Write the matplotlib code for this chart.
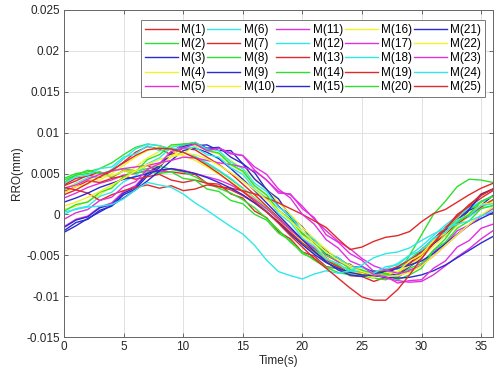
import numpy as np
import matplotlib
matplotlib.use("Agg")
import matplotlib.pyplot as plt

plt.rcParams['font.family'] = ['Liberation Sans', 'DejaVu Sans']
plt.rcParams['axes.unicode_minus'] = False

# time axis (s), one sample per second
time_s = list(range(37))

# RRO of each measurement, in units of 0.001 mm
m01 = [3.5, 4.1, 4.8, 4.5, 5.3, 6.4, 7.6, 8.3, 8.0, 7.3, 8.1, 7.9, 7.0, 6.1, 5.0, 3.7, 2.4, 1.0, -0.4, -1.8, -3.0, -4.2, -5.3, -6.3, -7.0, -7.4, -7.3, -7.1, -6.6, -5.6, -4.3, -3.0, -1.6, -0.3, 0.9, 2.0, 2.9]
m02 = [4.4, 5.0, 5.2, 5.6, 6.3, 7.3, 8.2, 8.6, 8.4, 8.0, 7.6, 7.0, 6.2, 5.3, 4.3, 3.2, 2.0, 0.8, -0.6, -1.9, -3.1, -4.4, -5.4, -6.2, -6.8, -7.2, -7.3, -7.0, -6.4, -5.5, -4.3, -3.1, -1.8, -0.6, 0.6, 1.5, 2.3]
m03 = [-2.0, -1.0, -0.6, 0.5, 1.0, 2.4, 3.1, 4.7, 5.7, 7.5, 8.6, 8.4, 8.5, 7.8, 7.8, 6.2, 5.1, 3.0, 1.9, -0.3, -1.5, -3.5, -4.4, -5.8, -6.1, -7.1, -6.9, -7.2, -6.5, -6.0, -4.5, -3.6, -1.9, -1.1, 0.5, 1.1, 2.3]
m04 = [0.6, 1.0, 1.6, 2.4, 3.4, 4.6, 5.8, 6.9, 7.7, 8.3, 8.6, 8.4, 8.0, 7.4, 6.6, 5.6, 4.4, 3.0, 1.5, 0.0, -1.6, -3.0, -4.3, -5.4, -6.2, -6.8, -7.4, -7.6, -7.3, -6.4, -5.1, -3.6, -2.2, -1.0, 0.2, 1.1, 1.8]
m05 = [-1.5, -0.6, -0.2, 0.9, 1.4, 2.8, 3.5, 5.1, 6.0, 7.7, 8.5, 8.8, 8.0, 8.1, 7.5, 7.2, 5.4, 4.2, 2.6, 2.5, 0.7, -0.4, -2.5, -3.4, -4.8, -5.6, -7.0, -7.1, -7.7, -6.8, -6.3, -4.6, -3.6, -2.0, -1.3, -0.1, 0.2]
m06 = [3.0, 3.8, 4.5, 4.6, 5.5, 6.8, 8.0, 8.6, 8.4, 7.9, 7.6, 7.1, 6.3, 5.4, 4.4, 3.2, 1.9, 0.4, -1.0, -2.4, -3.6, -4.8, -5.8, -6.5, -7.0, -7.2, -7.0, -6.7, -6.0, -5.0, -3.9, -2.6, -1.3, -0.2, 0.8, 1.6, 2.2]
m07 = [3.6, 4.4, 4.7, 5.2, 4.5, 5.4, 5.3, 6.0, 5.2, 5.2, 5.0, 4.9, 3.8, 3.7, 2.5, 2.0, 0.4, -0.4, -2.1, -3.0, -4.6, -5.1, -6.4, -6.6, -7.5, -7.6, -8.2, -7.7, -7.5, -6.0, -5.0, -3.0, -1.8, 0.0, 1.0, 2.5, 3.1]
m08 = [4.2, 4.8, 5.4, 5.0, 5.3, 5.6, 5.3, 5.6, 5.9, 5.5, 5.2, 4.6, 3.8, 3.2, 2.6, 1.8, 0.8, -0.5, -1.9, -3.4, -4.6, -5.6, -6.5, -7.1, -7.4, -7.5, -7.8, -8.0, -7.4, -5.0, -2.5, 0.0, 1.6, 3.4, 4.3, 4.2, 3.9]
m09 = [-1.6, -0.7, -0.3, 0.8, 1.2, 2.6, 3.3, 5.0, 5.9, 7.6, 8.3, 8.7, 8.1, 8.2, 7.0, 6.2, 4.3, 3.1, 1.0, -0.3, -2.3, -3.3, -4.9, -5.3, -6.4, -6.4, -7.1, -7.0, -7.5, -6.4, -5.4, -3.6, -2.6, -0.7, 0.6, 2.4, 3.1]
m10 = [3.2, 3.7, 4.3, 4.2, 5.0, 6.0, 7.0, 7.8, 8.2, 7.8, 7.2, 6.6, 5.8, 4.9, 4.0, 3.0, 1.9, 0.7, -0.7, -2.1, -3.3, -4.5, -5.6, -6.4, -6.9, -7.3, -7.5, -7.4, -7.0, -6.3, -5.2, -3.9, -2.6, -1.4, -0.2, 0.8, 1.6]
m11 = [2.0, 2.6, 3.3, 3.8, 4.2, 4.8, 5.0, 5.4, 5.2, 5.6, 5.4, 5.0, 4.6, 4.2, 3.6, 2.8, 1.8, 0.7, -0.6, -1.9, -3.1, -4.1, -5.0, -5.8, -6.4, -6.9, -7.3, -7.8, -8.1, -8.3, -8.2, -7.4, -6.3, -5.2, -4.2, -3.0, -2.0]
m12 = [0.0, 0.7, 1.0, 2.2, 2.7, 4.0, 4.7, 6.2, 6.9, 8.2, 8.5, 8.8, 8.0, 7.8, 6.4, 5.6, 3.8, 2.8, 0.9, -0.2, -2.1, -3.1, -4.7, -5.3, -6.4, -6.5, -7.2, -6.7, -6.7, -5.4, -4.7, -3.1, -2.3, -0.8, -0.3, 0.8, 1.0]
m13 = [2.8, 3.4, 4.1, 3.9, 4.4, 4.7, 4.3, 4.6, 4.9, 4.2, 3.9, 4.2, 3.8, 3.4, 3.0, 2.3, 1.4, 0.3, -0.9, -2.2, -3.5, -4.6, -5.6, -6.4, -7.0, -7.2, -7.1, -6.9, -6.4, -5.6, -4.6, -3.5, -2.3, -1.2, -0.1, 0.9, 1.8]
m14 = [3.9, 4.8, 5.0, 5.2, 4.6, 5.3, 5.1, 5.2, 5.0, 5.2, 4.4, 4.2, 3.1, 2.8, 1.7, 1.3, 0.0, -0.7, -2.3, -3.2, -4.8, -5.4, -6.5, -6.6, -7.2, -6.9, -7.5, -7.4, -7.6, -6.6, -6.0, -4.4, -3.4, -1.7, -0.8, 0.7, 1.1]
m15 = [-2.2, -1.4, -0.5, 0.3, 1.1, 2.0, 3.0, 4.1, 5.3, 6.6, 7.8, 8.1, 7.6, 6.8, 5.6, 4.3, 2.9, 1.4, -0.1, -1.6, -3.1, -4.5, -5.8, -6.8, -7.4, -7.6, -7.3, -7.0, -6.6, -6.2, -5.7, -4.8, -3.6, -2.4, -1.3, -0.5, 0.2]
m16 = [2.6, 3.4, 3.7, 4.7, 4.7, 5.3, 5.3, 6.0, 6.0, 7.0, 7.4, 8.4, 7.8, 7.4, 6.0, 5.2, 3.4, 2.3, 0.4, -0.7, -2.6, -3.7, -5.4, -6.0, -7.1, -7.2, -7.8, -7.1, -7.0, -5.7, -4.9, -3.2, -2.3, -0.7, 0.0, 1.2, 1.4]
m17 = [3.2, 3.6, 4.3, 4.9, 5.3, 5.6, 5.8, 6.0, 6.3, 6.6, 7.0, 6.9, 6.6, 6.3, 6.1, 5.8, 5.3, 4.2, 2.8, 2.4, 1.0, -0.6, -2.0, -3.3, -4.2, -5.4, -6.3, -6.8, -7.2, -7.0, -6.2, -5.1, -3.8, -2.5, -1.3, -0.2, 0.7]
m18 = [3.8, 4.6, 4.8, 5.6, 5.8, 7.0, 7.4, 8.4, 7.8, 8.0, 8.1, 8.2, 7.3, 7.0, 5.7, 4.9, 3.1, 2.0, 0.1, -1.0, -2.9, -3.9, -5.5, -6.0, -7.0, -6.9, -7.2, -6.4, -6.2, -5.0, -4.4, -2.9, -2.2, -0.7, -0.1, 1.1, 1.3]
m19 = [3.3, 3.0, 2.6, 1.7, 2.4, 2.9, 3.3, 3.6, 3.2, 3.5, 2.9, 3.1, 3.6, 3.4, 3.2, 2.9, 2.5, 2.0, 1.4, 0.7, 0.0, -0.8, -1.6, -3.0, -4.3, -4.0, -3.3, -2.8, -2.6, -2.1, -0.9, 0.1, 0.6, 1.5, 2.4, 3.2, 3.8]
m20 = [0.4, 1.2, 1.5, 2.7, 3.2, 4.6, 5.2, 6.7, 7.3, 8.5, 8.6, 8.7, 7.8, 7.5, 6.1, 5.3, 3.5, 2.4, 0.5, -0.6, -2.4, -3.4, -5.0, -5.6, -6.7, -6.8, -7.4, -7.2, -8.0, -7.4, -6.6, -4.4, -3.0, -1.0, 0.0, 1.6, 2.2]
m21 = [1.5, 2.0, 2.6, 3.3, 3.8, 4.3, 4.6, 5.0, 5.4, 5.6, 5.3, 5.0, 4.5, 3.9, 3.2, 2.4, 1.4, 0.3, -1.0, -2.4, -3.7, -4.9, -5.9, -6.6, -7.1, -7.4, -7.5, -7.7, -7.8, -7.7, -7.4, -6.9, -6.2, -5.3, -4.4, -3.5, -2.7]
m22 = [1.0, 1.5, 2.1, 2.8, 3.6, 4.4, 5.3, 6.1, 6.7, 7.2, 7.5, 7.3, 6.8, 6.0, 5.1, 4.1, 3.0, 1.8, 0.5, -0.8, -2.1, -3.4, -4.6, -5.6, -6.4, -7.0, -7.4, -7.6, -7.5, -7.1, -6.3, -5.1, -3.8, -2.5, -1.2, -0.1, 0.9]
m23 = [-0.6, 0.2, 0.6, 1.7, 2.1, 3.4, 4.0, 5.5, 6.2, 7.7, 8.1, 8.6, 7.8, 8.1, 7.4, 7.2, 5.8, 4.9, 3.1, 2.0, 0.0, -1.2, -3.1, -4.1, -5.7, -6.3, -7.4, -7.6, -8.4, -8.1, -8.0, -6.6, -5.7, -4.0, -3.2, -1.7, -1.2]
m24 = [0.3, 0.6, 0.9, 1.0, 1.2, 1.9, 3.0, 3.9, 3.6, 3.3, 2.5, 1.4, 0.5, -0.5, -1.5, -2.4, -3.8, -5.6, -7.0, -7.5, -7.9, -7.3, -6.9, -7.2, -6.9, -6.2, -5.3, -4.8, -4.6, -4.1, -3.2, -2.4, -1.7, -1.2, -0.8, -0.2, 0.4]
m25 = [2.4, 3.0, 3.8, 4.6, 5.4, 6.3, 7.2, 7.9, 8.1, 8.0, 7.6, 6.9, 6.0, 5.0, 3.9, 2.8, 1.6, 0.3, -1.1, -2.6, -4.0, -5.4, -6.6, -7.8, -9.0, -10.1, -10.5, -10.5, -9.2, -7.4, -5.4, -3.5, -1.8, -0.2, 1.2, 2.3, 3.1]

series = [m01, m02, m03, m04, m05, m06, m07, m08, m09, m10, m11, m12, m13,
          m14, m15, m16, m17, m18, m19, m20, m21, m22, m23, m24, m25]
labels = ['M(%d)' % (i + 1) for i in range(len(series))]

yticks = [-0.015, -0.01, -0.005, 0, 0.005, 0.01, 0.015, 0.02, 0.025]
ytick_labels = ['-0.015', '-0.01', '-0.005', '0', '0.005', '0.01', '0.015', '0.02', '0.025']
xticks = [0, 5, 10, 15, 20, 25, 30, 35]

# red, green, blue, yellow, magenta, cyan
colors = ['#e02a2a', '#2ee02e', '#2a2ad0', '#f2f22a', '#e030e0', '#30e8e8']

fig = plt.figure(figsize=(4.94, 3.78), dpi=100)
ax = fig.add_axes([64 / 494, 41 / 378, 429 / 494, 327 / 378])

for i, vals in enumerate(series):
    ax.plot(time_s, np.array(vals) * 1e-3, color=colors[i % 6], lw=1.0, label=labels[i])

ax.set_xlim(0, 36)
ax.set_ylim(-0.015, 0.025)
ax.set_xticks(xticks)
ax.set_xticklabels([str(x) for x in xticks])
ax.set_yticks(yticks)
ax.set_yticklabels(ytick_labels)

ax.grid(True, color='#dcdcdc', lw=0.6)
ax.set_axisbelow(True)
ax.tick_params(direction='in', length=3, width=0.6, colors='#555555',
               labelcolor='#262626', labelsize=8.5, top=True, right=True, pad=3)
for sp in ax.spines.values():
    sp.set_color('#666666')
    sp.set_linewidth(0.7)

ax.set_xlabel('Time(s)', fontsize=8.5, color='#262626', labelpad=1)
ax.set_ylabel('RRO(mm)', fontsize=8.5, color='#262626', labelpad=2)

leg = ax.legend(ncol=5, loc='upper right', bbox_to_anchor=(0.981, 0.969),
                borderaxespad=0, fontsize=8.5, handlelength=2.8, handletextpad=0.3,
                columnspacing=0.1, labelspacing=0.2, borderpad=0.3,
                fancybox=False, framealpha=1)
leg.get_frame().set_edgecolor('#777777')
leg.get_frame().set_linewidth(0.7)

fig.savefig('out.png', dpi=100)
